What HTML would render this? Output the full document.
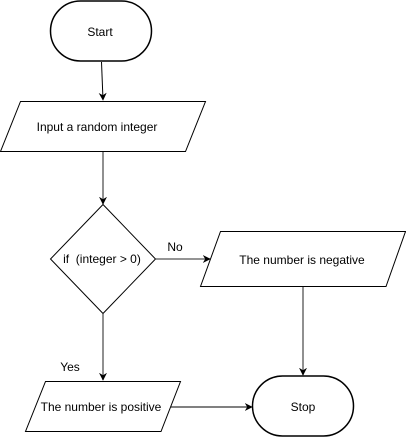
<!DOCTYPE html>
<html><head><meta charset="utf-8"><style>
html,body{margin:0;padding:0;background:#fff;}
svg{display:block;}
text{font-family:"Liberation Sans",Arial,sans-serif;font-size:12px;fill:#000;}
</style></head><body>
<svg width="406" height="437" viewBox="0 0 406 437" xmlns="http://www.w3.org/2000/svg">
<defs>
<marker id="a" viewBox="0 0 10 10" refX="9" refY="5" markerWidth="8" markerHeight="8" orient="auto" markerUnits="userSpaceOnUse">
<path d="M0,0 L10,5 L0,10 L3,5 Z" fill="#000"/>
</marker>
</defs>
<g fill="#fff" stroke="#000">
<rect x="50.5" y="1" width="101" height="60" rx="30" ry="30" stroke-width="1.5"/>
<polygon points="20.5,101.5 205.5,101.5 185.5,151.5 0.5,151.5"/>
<polygon points="103,204.5 155.5,259 103,313.5 50.5,259"/>
<polygon points="220.5,231.5 405.5,231.5 386,286.5 200.5,286.5"/>
<polygon points="45.5,381.5 180.5,381.5 161,431.5 25.5,431.5"/>
<rect x="252.5" y="376" width="101" height="60" rx="30" ry="30" stroke-width="1.5"/>
</g>
<g stroke="#000" fill="none">
<line x1="101.5" y1="62" x2="103" y2="100" marker-end="url(#a)"/>
<line x1="103" y1="152" x2="103" y2="204" stroke="#555" stroke-width="1.3" marker-end="url(#a)"/>
<line x1="155.5" y1="259" x2="210" y2="259" stroke="#555" stroke-width="1.3" marker-end="url(#a)"/>
<line x1="303" y1="287" x2="303" y2="375" stroke="#555" stroke-width="1.3" marker-end="url(#a)"/>
<line x1="103" y1="314" x2="103" y2="380" stroke="#555" stroke-width="1.3" marker-end="url(#a)"/>
<line x1="171" y1="407" x2="252" y2="407" marker-end="url(#a)"/>
</g>
<g text-anchor="middle">
<text x="100" y="36">Start</text>
<text x="97" y="131">Input a random integer</text>
<text x="102" y="263">if&#160;&#160;(integer &gt; 0)</text>
<text x="302" y="264">The number is negative</text>
<text x="101" y="411">The number is positive</text>
<text x="303" y="411">Stop</text>
<text x="175" y="251">No</text>
<text x="70" y="371">Yes</text>
</g>
</svg>
</body></html>
